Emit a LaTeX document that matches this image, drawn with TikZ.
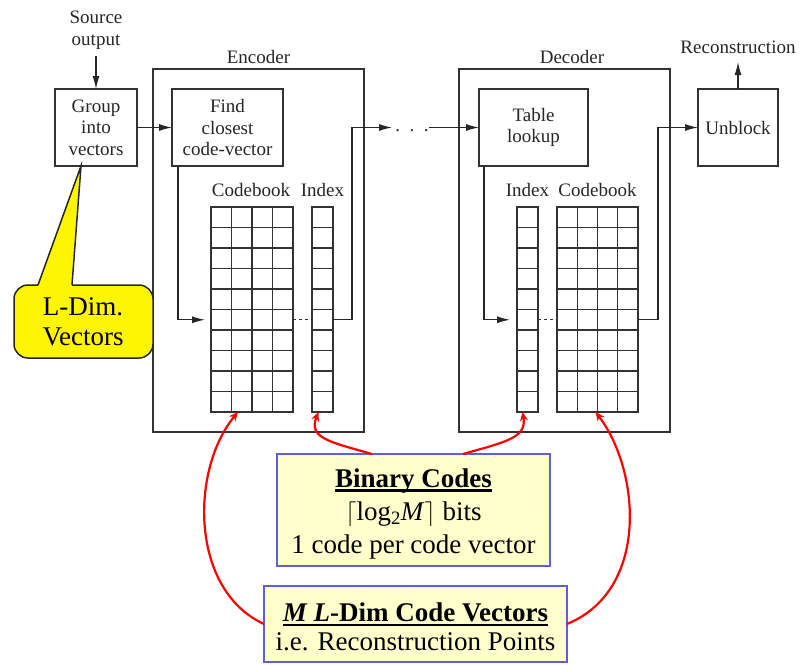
\documentclass[tikz,border=0pt]{standalone}
\usepackage{fontspec}
\setmainfont{Liberation Serif}
\usetikzlibrary{arrows.meta,calc}
\definecolor{boxblue}{RGB}{95,95,215}
\definecolor{paleyel}{RGB}{255,255,204}
\definecolor{callyel}{RGB}{255,245,0}
\newcommand\thickul[1]{\setbox0\hbox{#1}\rlap{\rule[-4.5pt]{\wd0}{2.6pt}}\box0}
\begin{document}
\begin{tikzpicture}[x=1pt,y=-1pt,
  every node/.style={inner sep=0pt,outer sep=0pt},
  txt/.style={font=\fontsize{19}{21.5}\selectfont,align=center,text=black!85},
  bigtxt/.style={font=\fontsize{27}{33}\selectfont,align=center,text=black},
  blk/.style={draw=black!80,line width=1.3pt},
  cell/.style={draw=black!80,line width=1.2pt},
  arr/.style={draw=black!85,line width=1.2pt,-{Latex[length=13pt,width=7pt]}},
  dashln/.style={draw=black!80,line width=1.2pt,dash pattern=on 3pt off 3pt},
  redarr/.style={draw=red,line width=2.2pt,-{Stealth[length=9pt,width=8pt]}},
  infobox/.style={draw=boxblue,line width=2pt,fill=paleyel},
  outl/.style={draw=black!85,line width=1.5pt}
]
\useasboundingbox (0,0) rectangle (799,664);

% ---------- top labels ----------
\node[txt] (src) at (96,30) {Source\\output};
\node[txt] (enclbl) at (258.5,57) {Encoder};
\node[txt] (declbl) at (572,57) {Decoder};
\node[txt] (recon) at (738,47) {Reconstruction};

% ---------- boxes ----------
\node[blk,minimum width=211pt,minimum height=363pt] (enc) at (258.5,250.5) {};
\node[blk,minimum width=211pt,minimum height=363pt] (dec) at (564.5,250.5) {};
\node[blk,txt,minimum width=82pt,minimum height=77pt] (group) at (96,127.5) {Group\\into\\vectors};
\node[blk,txt,minimum width=111pt,minimum height=77pt] (find) at (227.5,127.5) {Find\\closest\\code-vector};
\node[blk,txt,minimum width=109pt,minimum height=77pt] (table) at (533.5,127.5) {Table\\lookup};
\node[blk,txt,minimum width=80pt,minimum height=77pt] (unblock) at (738,127.5) {Unblock};

% ---------- grids ----------
\node[txt] (cblbl1) at (251,190) {Codebook};
\node[txt] (idxlbl1) at (322.5,190) {Index};
\node[txt] (idxlbl2) at (527.5,190) {Index};
\node[txt] (cblbl2) at (597.5,190) {Codebook};

\node[cell,minimum width=82pt,minimum height=205pt] (encCB) at (252,309.5) {};
\node[cell,minimum width=21pt,minimum height=205pt] (encIdx) at (322.5,309.5) {};
\node[cell,minimum width=21pt,minimum height=205pt] (decIdx) at (527.5,309.5) {};
\node[cell,minimum width=81pt,minimum height=205pt] (decCB) at (597.5,309.5) {};
\foreach \k in {1,...,9}{
  \draw[cell] ($(encCB.north west)+(0,\k*20.5)$) -- ++(82,0);
  \draw[cell] ($(encIdx.north west)+(0,\k*20.5)$) -- ++(21,0);
  \draw[cell] ($(decIdx.north west)+(0,\k*20.5)$) -- ++(21,0);
  \draw[cell] ($(decCB.north west)+(0,\k*20.5)$) -- ++(81,0);
}
\foreach \k in {1,2,3}{
  \draw[cell] ($(encCB.north west)+(\k*20.5,0)$) -- ++(0,205);
  \draw[cell] ($(decCB.north west)+(\k*20.25,0)$) -- ++(0,205);
}

% ---------- black connectors ----------
\coordinate (encIn) at (205,319.75);
\coordinate (encOut) at (392,127.5);
\coordinate (decStart) at (429,127.5);
\coordinate (decIn) at (510,319.75);
\coordinate (reconTip) at (738,62);

\draw[arr] ([yshift=-7pt]src.south) -- (group.north);
\draw[arr] (group.east) -- (find.west);
\draw[arr] ([xshift=6pt]find.south west) |- (encIn);
\draw[dashln] (encCB.east |- encIn) -- (encIdx.west |- encIn);
\draw[arr] (encIdx.east |- encIn) -- ++(19,0) |- (encOut);
\node[txt] (dots) at (412,131) {.\ \ .\ \ .};
\draw[arr] (decStart) -- (table.west);
\draw[arr] ([xshift=5pt]table.south west) |- (decIn);
\draw[dashln] (decIdx.east |- decIn) -- (decCB.west |- decIn);
\draw[arr] (decCB.east |- decIn) -- ++(20,0) |- (unblock.west);
\draw[arr] (unblock.north) -- (unblock.north |- reconTip);

% ---------- callout ----------
\coordinate (ptip) at ([xshift=-15pt]group.south);
\fill[callyel,rounded corners=14pt] (14,285) rectangle (153,358);
\fill[callyel] (38,286) -- (ptip) -- (72,286) -- cycle;
\draw[outl,rounded corners=14pt] (72,285) -- (153,285) -- (153,358) -- (14,358) -- (14,285) -- (38,285);
\draw[outl] (38,285) -- (ptip) -- (72,285);
\node[font=\fontsize{27}{30}\selectfont,align=center,text=black] (ldim) at (83,322) {L-Dim.\\Vectors};

% ---------- info boxes ----------
\node[infobox,minimum width=273pt,minimum height=112pt] (binbox) at (413.5,510) {};
\node[bigtxt] (bintext) at (413.5,514) {\thickul{\textbf{Binary Codes}}\\$\lceil$log\textsubscript{2}\textit{M}$\rceil$ bits\\1 code per code vector};
\node[infobox,minimum width=303pt,minimum height=76pt] (mlbox) at (415.5,624) {};
\node[font=\fontsize{27}{29}\selectfont,align=center,text=black] (mltext) at (415.5,627) {\thickul{\textbf{\textit{M L}-Dim Code Vectors}}\\i.e. Reconstruction Points};

% ---------- red arrows ----------
\coordinate (b1) at ([xshift=-41.5pt]binbox.north);
\coordinate (b2) at ([xshift=49.5pt]binbox.north);
\coordinate (m1) at (mlbox.west);
\coordinate (m2) at (mlbox.east);
\draw[redarr] (b1) .. controls (330,442) and (308,438) .. ([xshift=-4pt]encIdx.south);
\draw[redarr] (b2) .. controls (505,442) and (527,438) .. ([xshift=-5pt]decIdx.south);
\draw[redarr] (m1) .. controls (190,590) and (190,470) .. ([xshift=-14pt]encCB.south);
\draw[redarr] (m2) .. controls (650,590) and (640,470) .. ([xshift=-2pt]decCB.south);
\end{tikzpicture}
\end{document}
